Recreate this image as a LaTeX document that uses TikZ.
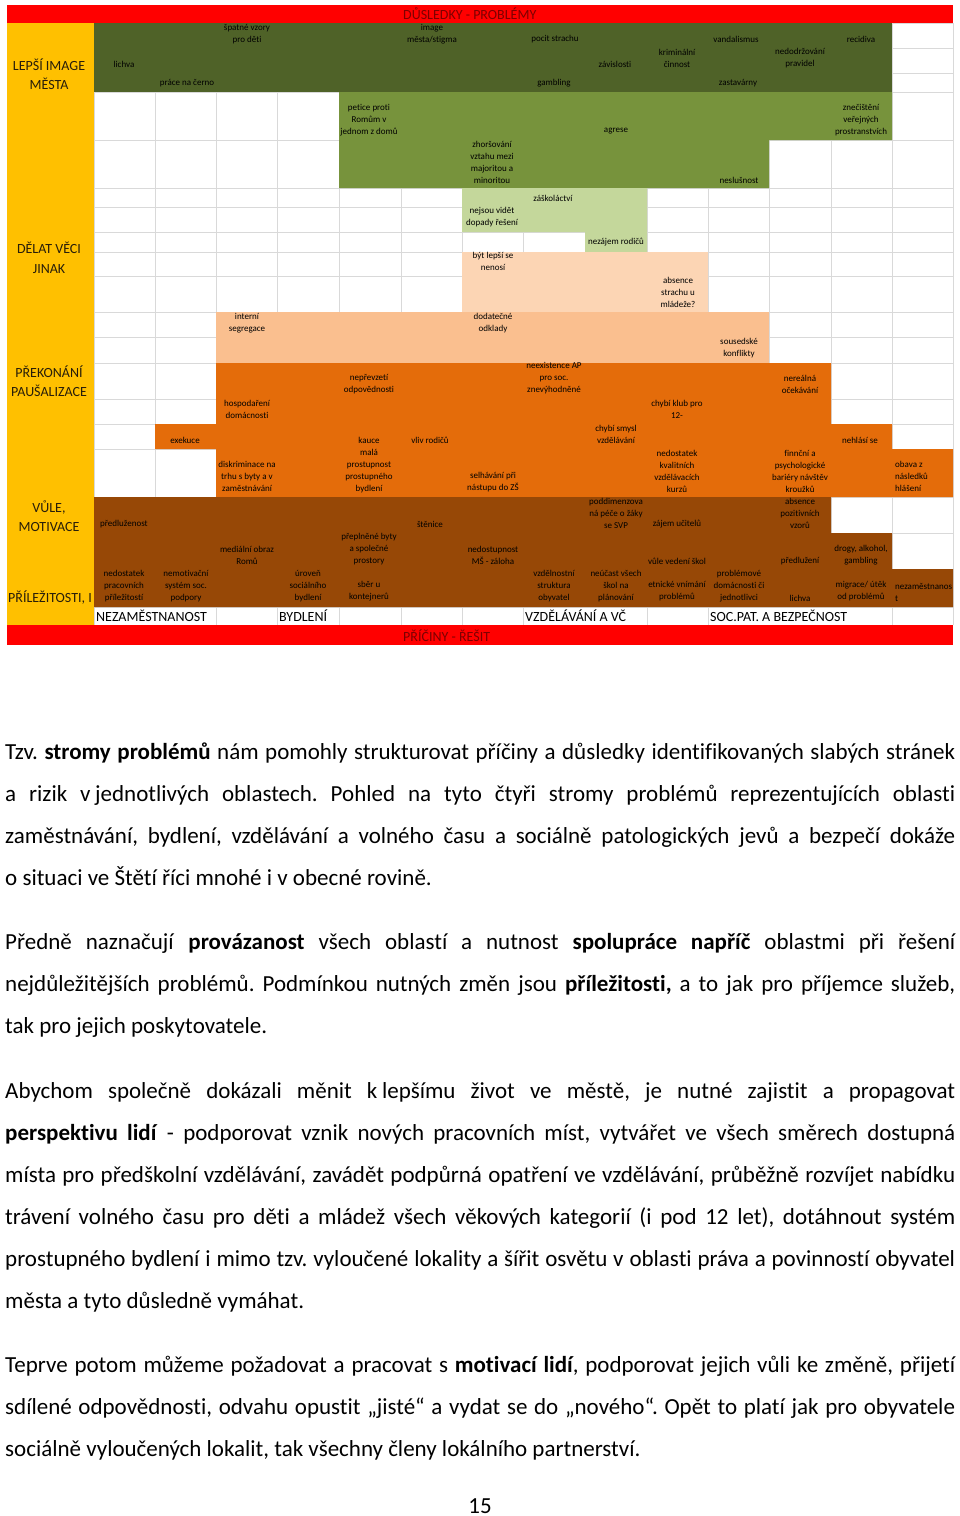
\documentclass[tikz,border=0pt]{standalone}
\usepackage{fontspec}
\setmainfont{Carlito}[Ligatures={NoCommon}]
\frenchspacing
\definecolor{dkgreen}{RGB}{79,98,40}
\definecolor{mdgreen}{RGB}{119,147,60}
\definecolor{ltgreen}{RGB}{196,215,155}
\definecolor{peachA}{RGB}{252,213,180}
\definecolor{peachB}{RGB}{250,191,143}
\definecolor{orangeC}{RGB}{228,108,10}
\definecolor{brownC}{RGB}{151,72,6}
\definecolor{yellowC}{RGB}{255,192,0}
\definecolor{redC}{RGB}{255,0,0}
\definecolor{titleC}{RGB}{125,0,0}
\definecolor{gridC}{RGB}{217,217,217}
\definecolor{labC}{RGB}{40,30,10}
\begin{document}
\begin{tikzpicture}[x=1pt,y=-1pt,
  cell/.style={font=\fontsize{9}{12}\selectfont, align=center, inner sep=0pt, text=black},
  cellL/.style={cell, align=left, anchor=west},
  lab/.style={font=\fontsize{14}{19.5}\selectfont, align=center, inner sep=0pt, text=labC},
  catlab/.style={font=\fontsize{14}{16}\selectfont, inner xsep=1pt, inner ysep=0pt, minimum height=17pt, anchor=west, fill=white, text=black},
  ttl/.style={font=\fontsize{14}{16}\selectfont, inner sep=0pt, anchor=west, text=titleC},
  body/.style={font=\fontsize{23}{42}\selectfont, inner sep=0pt, anchor=base west, text=black},
  gridline/.style={draw=gridC, line width=1pt}
]
\useasboundingbox (0,0) rectangle (960,1516);
\fill[white] (0,0) rectangle (960,1516);

% grid
\foreach \x in {94,155,216,277,339,401,462,523,585,647,708,769,831,892,953}
  \draw[gridline] (\x,23) -- (\x,625);
\foreach \y in {23,48,73,92,140,188,207,232,252,276,312,337,363,399,424,449,497,533,569,607}
  \draw[gridline] (94,\y) -- (953,\y);

% yellow column
\fill[yellowC] (7,23) rectangle (94,625);
\node[lab] (yl1) at (49,74) {LEPŠÍ IMAGE\\MĚSTA};
\node[lab] (yl2) at (49,258) {DĚLAT VĚCI\\JINAK};
\node[lab] (yl3) at (49,381) {PŘEKONÁNÍ\\PAUŠALIZACE};
\node[lab] (yl4) at (49,516) {VŮLE,\\MOTIVACE};
\node[lab, anchor=west] (yl5) at (8,598) {PŘÍLEŽITOSTI, I};

% coloured regions
\fill[dkgreen] (94,23) rectangle (892,92);
\fill[mdgreen] (339,92) -- (892,92) -- (892,140) -- (769,140) -- (769,188) -- (339,188) -- cycle;
\fill[ltgreen] (462,188) -- (647,188) -- (647,252) -- (585,252) -- (585,232) -- (462,232) -- cycle;
\fill[peachA] (462,252) rectangle (708,312);
\fill[peachB] (216,312) rectangle (769,363);
\fill[orangeC] (216,363) -- (831,363) -- (831,424) -- (892,424) -- (892,449) -- (953,449) -- (953,497)
  -- (216,497) -- (216,449) -- (155,449) -- (155,424) -- (216,424) -- cycle;
\fill[brownC] (94,497) -- (831,497) -- (831,533) -- (892,533) -- (892,569) -- (953,569) -- (953,607)
  -- (94,607) -- cycle;

% red bars
\fill[redC] (7,5) rectangle (953,23);
\fill[redC] (7,625) rectangle (953,645);
\node[ttl] (t1) at (403,14) {DŮSLEDKY - PROBLÉMY};
\node[ttl] (t2) at (403,636) {PŘÍČINY - ŘEŠIT};

% category labels
\node[catlab] (k1) at (95,616) {NEZAMĚSTNANOST};
\node[catlab] (k2) at (278,616) {BYDLENÍ};
\node[catlab] (k3) at (524,616) {VZDĚLÁVÁNÍ A VČ};
\node[catlab] (k4) at (709,616) {SOC.PAT. A BEZPEČNOST};

% dark green cells
\node[cell] (c01) at (247,34) {špatné vzory\\pro děti};
\node[cell] (c02) at (432,34) {image\\města/stigma};
\node[cell] (c03) at (555,39) {pocit strachu};
\node[cell] (c04) at (736,39) {vandalismus};
\node[cell] (c05) at (861,39) {recidiva};
\node[cell] (c06) at (677,58) {kriminální\\činnost};
\node[cell] (c07) at (800,58) {nedodržování\\pravidel};
\node[cell] (c08) at (124,64) {lichva};
\node[cell] (c09) at (615,64) {závislosti};
\node[cell] (c10) at (187,83) {práce na černo};
\node[cell] (c11) at (554,83) {gambling};
\node[cell] (c12) at (738,83) {zastavárny};

% mid green cells
\node[cell] (c13) at (369,120) {petice proti\\Romům v\\jednom z domů};
\node[cell] (c14) at (616,131) {agrese};
\node[cell] (c15) at (861,120) {znečištění\\veřejných\\prostranstvích};
\node[cell] (c16) at (492,162.5) {zhoršování\\vztahu mezi\\majoritou a\\minoritou};
\node[cell] (c17) at (739,180) {neslušnost};

% light green cells
\node[cell] (c18) at (553,198) {záškoláctví};
\node[cell] (c19) at (492,217.5) {nejsou vidět\\dopady řešení};
\node[cell] (c20) at (616,242.5) {nezájem rodičů};

% peach cells
\node[cell] (c21) at (493,261.5) {být lepší se\\nenosí};
\node[cell] (c22) at (678,292) {absence\\strachu u\\mládeže?};
\node[cell] (c23) at (247,323.5) {interní\\segregace};
\node[cell] (c24) at (493,323.5) {dodatečné\\odklady};
\node[cell] (c25) at (739,348) {sousedské\\konflikty};

% orange cells
\node[cell] (c26) at (369,384.5) {nepřevzetí\\odpovědnosti};
\node[cell] (c27) at (554,378.5) {neexistence AP\\pro soc.\\znevýhodněné};
\node[cell] (c28) at (800,384.5) {nereálná\\očekávání};
\node[cell] (c29) at (247,409) {hospodaření\\domácnosti};
\node[cell] (c30) at (677,409) {chybí klub pro\\12-};
\node[cell] (c31) at (616,434) {chybí smysl\\vzdělávání};
\node[cell] (c32) at (185,440) {exekuce};
\node[cell] (c33) at (369,440) {kauce};
\node[cell] (c34) at (430,440) {vliv rodičů};
\node[cell] (c35) at (860,440) {nehlásí se};
\node[cell] (c36) at (369,471) {malá\\prostupnost\\prostupného\\bydlení};
\node[cell] (c37) at (247,476.5) {diskriminace na\\trhu s byty a v\\zaměstnávání};
\node[cell] (c38) at (493,482.5) {selhávání při\\nástupu do ZŠ};
\node[cell] (c39) at (677,471) {nedostatek\\kvalitních\\vzdělávacích\\kurzů};
\node[cell] (c40) at (800,471) {finnční a\\psychologické\\bariéry návštěv\\kroužků};
\node[cellL] (c41) at (895,476.5) {obava z\\následků\\hlášení};

% brown cells
\node[cellL] (c42) at (100,524) {předluženost};
\node[cell] (c43) at (430,524) {štěnice};
\node[cell] (c44) at (616,513) {poddimenzova\\ná péče o žáky\\se SVP};
\node[cell] (c45) at (677,524) {zájem učitelů};
\node[cell] (c46) at (800,513) {absence\\pozitivních\\vzorů};
\node[cell] (c47) at (369,549.5) {přeplněné byty\\a společné\\prostory};
\node[cell] (c48) at (247,555.5) {mediální obraz\\Romů};
\node[cell] (c49) at (493,555) {nedostupnost\\MŠ - záloha};
\node[cell] (c50) at (677,561) {vůle vedení škol};
\node[cell] (c51) at (800,561) {předlužení};
\node[cell] (c52) at (861,555) {drogy, alkohol,\\gambling};
\node[cell] (c53) at (124,586) {nedostatek\\pracovních\\příležitostí};
\node[cell] (c54) at (186,586) {nemotivační\\systém soc.\\podpory};
\node[cell] (c55) at (308,586) {úroveň\\sociálního\\bydlení};
\node[cell] (c56) at (369,591.5) {sběr u\\kontejnerů};
\node[cell] (c57) at (554,586) {vzdělnostní\\struktura\\obyvatel};
\node[cell] (c58) at (616,586) {neúčast všech\\škol na\\plánování};
\node[cell] (c59) at (677,591.5) {etnické vnímání\\problémů};
\node[cell] (c60) at (739,586) {problémové\\domácnosti či\\jednotlivci};
\node[cell] (c61) at (800,598) {lichva};
\node[cell] (c62) at (861,591.5) {migrace/ útěk\\od problémů};
\node[cellL] (c63) at (895,592) {nezaměstnanos\\t};

% body text
\node[body] (b01) at (5,759) {\hbox to 950pt{Tzv. \textbf{stromy problémů} nám pomohly strukturovat příčiny a důsledky identifikovaných slabých stránek}};
\node[body] (b02) at (5,801) {\hbox to 950pt{a rizik v\hspace{0.2em}jednotlivých oblastech. Pohled na tyto čtyři stromy problémů reprezentujících oblasti}};
\node[body] (b03) at (5,843) {\hbox to 950pt{zaměstnávání, bydlení, vzdělávání a volného času a sociálně patologických jevů a bezpečí dokáže}};
\node[body] (b04) at (5,885) {o situaci ve Štětí říci mnohé i v obecné rovině.};
\node[body] (b05) at (5,949) {\hbox to 950pt{Předně naznačují \textbf{provázanost} všech oblastí a nutnost \textbf{spolupráce napříč} oblastmi při řešení}};
\node[body] (b06) at (5,991) {\hbox to 950pt{nejdůležitějších problémů. Podmínkou nutných změn jsou \textbf{příležitosti,} a to jak pro příjemce služeb,}};
\node[body] (b07) at (5,1033) {tak pro jejich poskytovatele.};
\node[body] (b08) at (5,1098) {\hbox to 950pt{Abychom společně dokázali měnit k\hspace{0.2em}lepšímu život ve městě, je nutné zajistit a propagovat}};
\node[body] (b09) at (5,1140) {\hbox to 950pt{\textbf{perspektivu lidí} - podporovat vznik nových pracovních míst, vytvářet ve všech směrech dostupná}};
\node[body] (b10) at (5,1182) {\hbox to 950pt{místa pro předškolní vzdělávání, zavádět podpůrná opatření ve vzdělávání, průběžně rozvíjet nabídku}};
\node[body] (b11) at (5,1224) {\hbox to 950pt{trávení volného času pro děti a mládež všech věkových kategorií (i pod 12 let), dotáhnout systém}};
\node[body] (b12) at (5,1266) {\hbox to 950pt{prostupného bydlení i mimo tzv. vyloučené lokality a šířit osvětu v oblasti práva a povinností obyvatel}};
\node[body] (b13) at (5,1308) {města a tyto důsledně vymáhat.};
\node[body] (b14) at (5,1372) {\hbox to 950pt{Teprve potom můžeme požadovat a pracovat s \textbf{motivací lidí}, podporovat jejich vůli ke změně, přijetí}};
\node[body] (b15) at (5,1414) {\hbox to 950pt{sdílené odpovědnosti, odvahu opustit „jisté“ a vydat se do „nového“. Opět to platí jak pro obyvatele}};
\node[body] (b16) at (5,1456) {sociálně vyloučených lokalit, tak všechny členy lokálního partnerství.};
\node[body, anchor=base] (pg) at (480,1513) {15};
\end{tikzpicture}
\end{document}
